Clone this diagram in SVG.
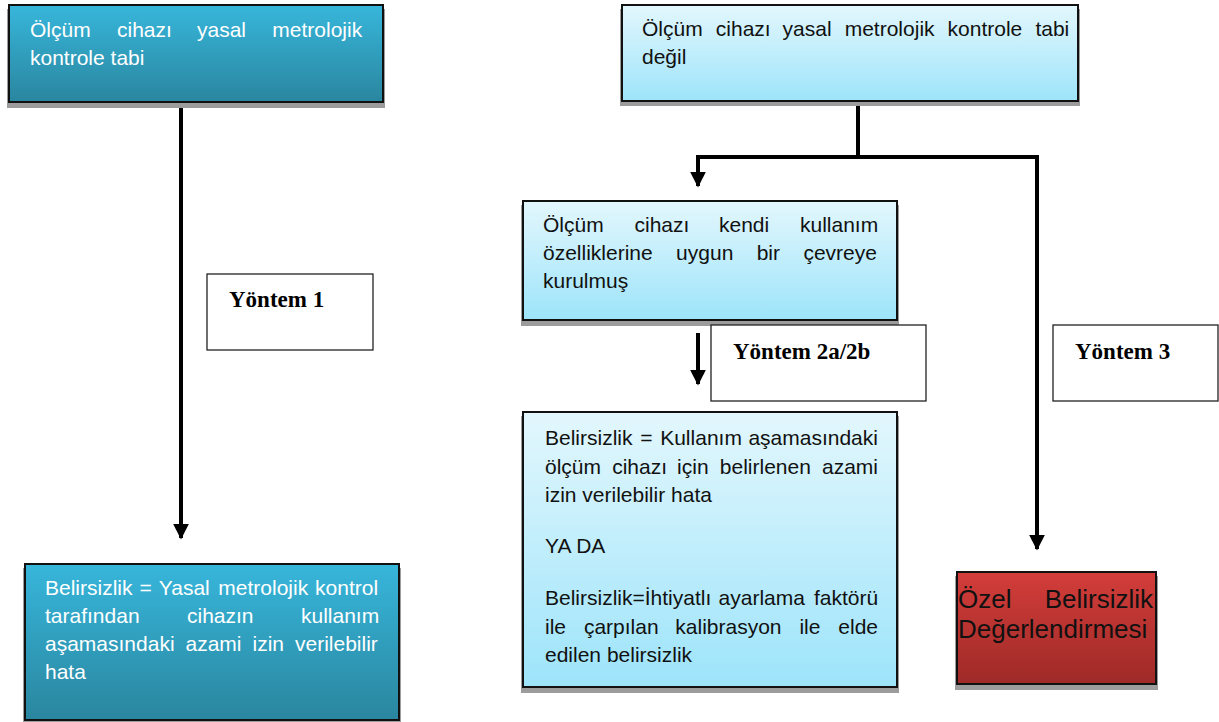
<svg xmlns="http://www.w3.org/2000/svg" width="1219" height="722" viewBox="0 0 1219 722">
  <defs>
    <linearGradient id="gDark" x1="0" y1="0" x2="0" y2="1">
      <stop offset="0" stop-color="#37b6db"/>
      <stop offset="1" stop-color="#2a869f"/>
    </linearGradient>
    <linearGradient id="gLight" x1="0" y1="0" x2="0" y2="1">
      <stop offset="0" stop-color="#e3f7fd"/>
      <stop offset="1" stop-color="#9de4fa"/>
    </linearGradient>
    <linearGradient id="gRed" x1="0" y1="0" x2="0" y2="1">
      <stop offset="0" stop-color="#d33d3a"/>
      <stop offset="1" stop-color="#9e2a27"/>
    </linearGradient>
    <marker id="arrow" markerWidth="4" markerHeight="4" refX="3.6" refY="2" orient="auto" markerUnits="strokeWidth">
      <path d="M0,0 L4,2 L0,4 Z" fill="#000"/>
    </marker>
  </defs>
  <style>
    .shadow { fill: #9c9c9c; }
    .box { stroke: #111; stroke-width: 2; }
    .lbl { fill: #fff; stroke: #222; stroke-width: 1.3; }
    .t { font-family: "Liberation Sans", Arial, sans-serif; font-size: 21px; }
    .w { fill: #ffffff; }
    .k { fill: #111111; }
    .y { font-family: "Liberation Serif", "Times New Roman", serif; font-size: 23px; font-weight: bold; fill: #000; }
    .conn { fill: none; stroke: #000; stroke-width: 4; }
  </style>
  <rect width="1219" height="722" fill="#ffffff"/>

  <g id="connectors">
    <path class="conn" d="M181,102 V538" marker-end="url(#arrow)"/>
    <path class="conn" d="M858,101 V157"/>
    <path class="conn" d="M696,157 H1039"/>
    <path class="conn" d="M698,157 V186" marker-end="url(#arrow)"/>
    <path class="conn" d="M1037,157 V549" marker-end="url(#arrow)"/>
    <path class="conn" d="M698,333 V384" marker-end="url(#arrow)"/>
  </g>

  <g id="n1">
    <rect class="shadow" x="7" y="9" width="378" height="99"/>
    <rect class="box" x="9" y="5" width="374" height="97" fill="url(#gDark)"/>
    <text class="t w" y="37"><tspan x="30">Ölçüm</tspan><tspan x="117">cihazı</tspan><tspan x="197">yasal</tspan><tspan x="272.3">metrolojik</tspan></text>
    <text class="t w" x="30" y="65">kontrole tabi</text>
  </g>

  <g id="n2">
    <rect class="shadow" x="620" y="9" width="460" height="97"/>
    <rect class="box" x="622" y="5" width="456" height="96" fill="url(#gLight)"/>
    <text class="t k" y="36"><tspan x="642">Ölçüm</tspan><tspan x="715.8">cihazı</tspan><tspan x="782.6">yasal</tspan><tspan x="844.7">metrolojik</tspan><tspan x="947.6">kontrole</tspan><tspan x="1035.4">tabi</tspan></text>
    <text class="t k" x="642" y="63.5">değil</text>
  </g>

  <g id="n3">
    <rect class="shadow" x="521" y="205" width="378" height="121"/>
    <rect class="box" x="523" y="201" width="374" height="119" fill="url(#gLight)"/>
    <text class="t k" y="232"><tspan x="543">Ölçüm</tspan><tspan x="634.5">cihazı</tspan><tspan x="719">kendi</tspan><tspan x="800">kullanım</tspan></text>
    <text class="t k" y="260"><tspan x="543">özelliklerine</tspan><tspan x="676.1">uygun</tspan><tspan x="756.7">bir</tspan><tspan x="803.4">çevreye</tspan></text>
    <text class="t k" x="543" y="288">kurulmuş</text>
  </g>

  <g id="n4">
    <rect class="shadow" x="521" y="416" width="378" height="277"/>
    <rect class="box" x="523" y="412" width="374" height="275" fill="url(#gLight)"/>
    <text class="t k" y="445"><tspan x="545">Belirsizlik</tspan><tspan x="640.2">=</tspan><tspan x="660.2">Kullanım</tspan><tspan x="748.4">aşamasındaki</tspan></text>
    <text class="t k" y="473.5"><tspan x="545">ölçüm</tspan><tspan x="612.2">cihazı</tspan><tspan x="677.1">için</tspan><tspan x="719.8">belirlenen</tspan><tspan x="822">azami</tspan></text>
    <text class="t k" x="545" y="502">izin verilebilir hata</text>
    <text class="t k" x="545" y="553.3">YA DA</text>
    <text class="t k" y="605"><tspan x="545">Belirsizlik=İhtiyatlı</tspan><tspan x="718.6">ayarlama</tspan><tspan x="813.9">faktörü</tspan></text>
    <text class="t k" y="633.5"><tspan x="545">ile</tspan><tspan x="583.9">çarpılan</tspan><tspan x="675.3">kalibrasyon</tspan><tspan x="799.4">ile</tspan><tspan x="838.3">elde</tspan></text>
    <text class="t k" x="545" y="662">edilen belirsizlik</text>
  </g>

  <g id="n5">
    <rect class="shadow" x="23" y="568" width="378" height="154"/>
    <rect class="box" x="25" y="564" width="374" height="156" fill="url(#gDark)"/>
    <text class="t w" y="595"><tspan x="45">Belirsizlik</tspan><tspan x="139.5">=</tspan><tspan x="158.8">Yasal</tspan><tspan x="218.3">metrolojik</tspan><tspan x="315.1">kontrol</tspan></text>
    <text class="t w" y="623"><tspan x="45">tarafından</tspan><tspan x="187">cihazın</tspan><tspan x="301">kullanım</tspan></text>
    <text class="t w" y="651"><tspan x="45">aşamasındaki</tspan><tspan x="185.5">azami</tspan><tspan x="252.5">izin</tspan><tspan x="295">verilebilir</tspan></text>
    <text class="t w" x="45" y="678.5">hata</text>
  </g>

  <g id="n6">
    <rect class="shadow" x="955" y="576" width="203" height="114"/>
    <rect class="box" x="957" y="572" width="199" height="112" fill="url(#gRed)"/>
    <text class="t k" style="font-size:26px" y="608"><tspan x="958">Özel</tspan><tspan x="1044.7">Belirsizlik</tspan></text>
    <text class="t k" style="font-size:26px" x="958" y="638">Değerlendirmesi</text>
  </g>

  <g id="m1">
    <rect class="lbl" x="207" y="274" width="166" height="76"/>
    <text class="y" x="229" y="307">Yöntem 1</text>
  </g>
  <g id="m2">
    <rect class="lbl" x="711" y="325" width="215" height="76"/>
    <text class="y" x="733" y="359">Yöntem 2a/2b</text>
  </g>
  <g id="m3">
    <rect class="lbl" x="1053" y="325" width="165" height="76"/>
    <text class="y" x="1075" y="359">Yöntem 3</text>
  </g>
</svg>
